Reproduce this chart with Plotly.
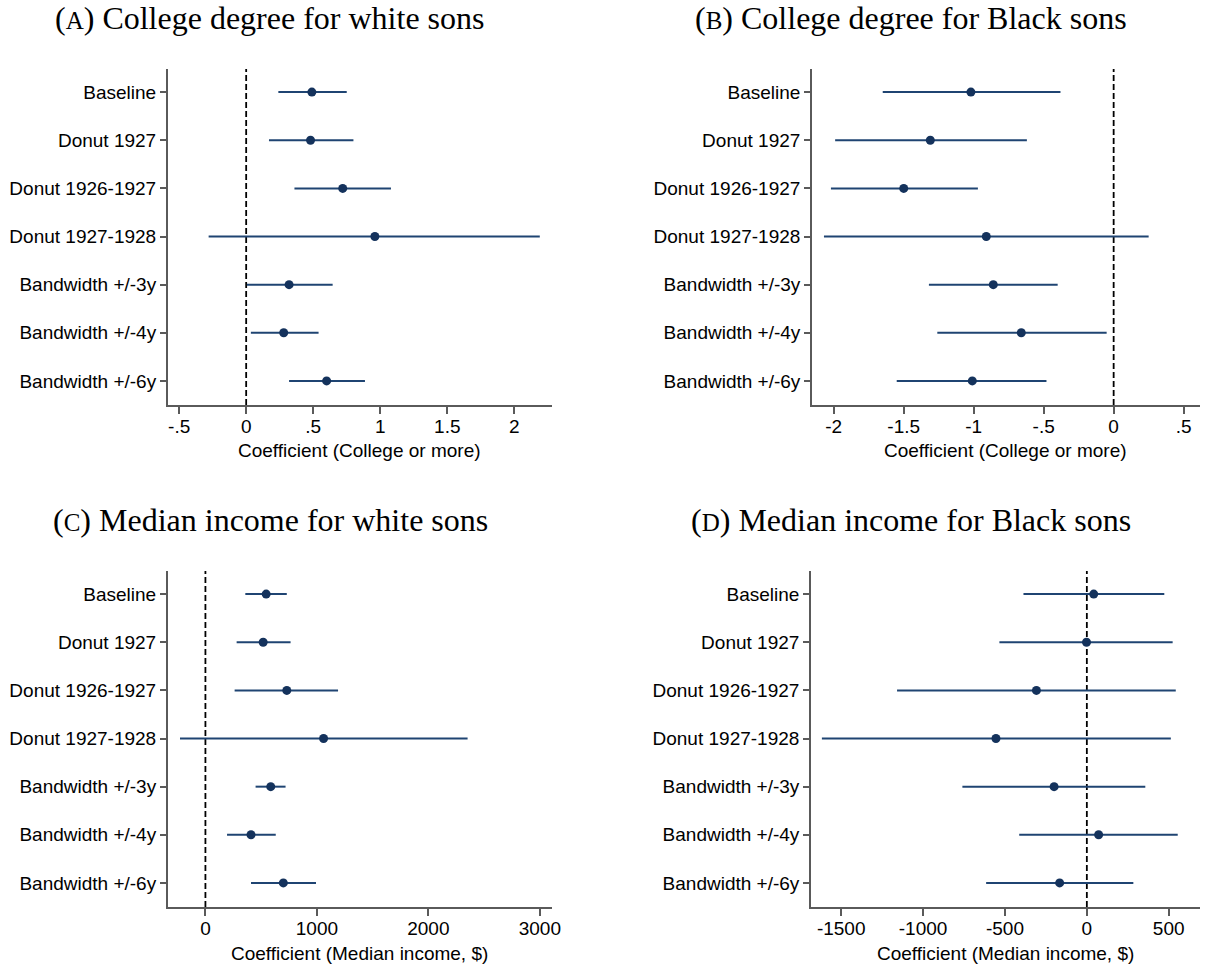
import plotly.graph_objects as go
import numpy as np

W, H = 1209, 967

labels = ["Baseline", "Donut 1927", "Donut 1926-1927", "Donut 1927-1928",
          "Bandwidth +/-3y", "Bandwidth +/-4y", "Bandwidth +/-6y"]

# (A) college, white sons
a_coef = [0.49, 0.48, 0.72, 0.96, 0.32, 0.28, 0.60]
a_lo = [0.24, 0.17, 0.36, -0.28, 0.005, 0.035, 0.32]
a_hi = [0.75, 0.80, 1.08, 2.19, 0.645, 0.54, 0.886]

# (B) college, Black sons
b_coef = [-1.02, -1.31, -1.50, -0.91, -0.86, -0.66, -1.01]
b_lo = [-1.65, -1.99, -2.02, -2.07, -1.32, -1.26, -1.55]
b_hi = [-0.38, -0.62, -0.97, 0.25, -0.40, -0.05, -0.48]

# (C) median income, white sons
c_coef = [545, 518, 730, 1060, 586, 409, 699]
c_lo = [358, 280, 262, -228, 450, 194, 409]
c_hi = [730, 764, 1190, 2352, 719, 631, 992]

# (D) median income, Black sons
d_coef = [42, -2, -308, -555, -200, 72, -166]
d_lo = [-387, -534, -1159, -1618, -760, -413, -615]
d_hi = [473, 524, 543, 513, 357, 555, 284]

a_ticks = [-0.5, 0, 0.5, 1, 1.5, 2]
a_ticktext = ["-.5", "0", ".5", "1", "1.5", "2"]
b_ticks = [-2, -1.5, -1, -0.5, 0, 0.5]
b_ticktext = ["-2", "-1.5", "-1", "-.5", "0", ".5"]
c_ticks = [0, 1000, 2000, 3000]
d_ticks = [-1500, -1000, -500, 0, 500]

titles = ["(<span style='font-size:25px'>A</span>) College degree for white sons",
          "(<span style='font-size:25px'>B</span>) College degree for Black sons",
          "(<span style='font-size:25px'>C</span>) Median income for white sons",
          "(<span style='font-size:25px'>D</span>) Median income for Black sons"]
xtitles = ["Coefficient (College or more)", "Coefficient (College or more)",
           "Coefficient (Median income, $)", "Coefficient (Median income, $)"]

LINE = "#1f4472"
DOT = "#14325c"
AX = "#5a5a5a"
SANS = "Liberation Sans, Arial, sans-serif"
SERIF = "Liberation Serif, Times New Roman, serif"

# pixel boxes of each plot area: left, right, top, bottom
boxes = [(169, 556, 69, 405), (818, 1209, 69, 405),
         (169, 556, 571, 907), (817, 1209, 571, 907)]
title_pos = [(272, 18), (918, 18), (273, 520), (918, 520)]
xranges = [[-0.585, 2.28], [-2.156, 0.617], [-338, 3108], [-1685, 691]]
ticks = [(a_ticks, a_ticktext), (b_ticks, b_ticktext),
         (c_ticks, [str(v) for v in c_ticks]), (d_ticks, [str(v) for v in d_ticks])]
panels = [(a_coef, a_lo, a_hi), (b_coef, b_lo, b_hi),
          (c_coef, c_lo, c_hi), (d_coef, d_lo, d_hi)]

fig = go.Figure()
annotations = []
shapes = []
for i, (coef, lo, hi) in enumerate(panels):
    n = "" if i == 0 else str(i + 1)
    coef = np.array(coef, dtype=float)
    fig.add_trace(go.Scatter(
        x=coef, y=labels, mode="markers",
        marker=dict(color=DOT, size=9),
        error_x=dict(type="data", symmetric=False,
                     array=np.array(hi) - coef, arrayminus=coef - np.array(lo),
                     color=LINE, thickness=2, width=0),
        xaxis="x" + n, yaxis="y" + n, showlegend=False))

    l, r, t, b = boxes[i]
    tv, tt = ticks[i]
    fig.layout["xaxis" + n] = dict(
        domain=[l / W, r / W], anchor="y" + n, range=xranges[i],
        tickvals=tv, ticktext=tt, ticks="outside", ticklen=7, tickwidth=1.5,
        tickcolor=AX, showline=True, linecolor=AX, linewidth=1.5,
        showgrid=False, zeroline=False, ticklabelstandoff=-4,
        tickfont=dict(family=SANS, size=19, color="black"))
    fig.layout["yaxis" + n] = dict(
        domain=[1 - b / H, 1 - t / H], anchor="x" + n,
        type="category", categoryorder="array", categoryarray=labels,
        range=[6.5, -0.48], ticks="outside", ticklen=6, tickwidth=1.5,
        tickcolor=AX, showline=True, linecolor=AX, linewidth=1.5,
        showgrid=False, zeroline=False,
        tickfont=dict(family=SANS, size=19, color="black"))

    shapes.append(dict(type="line", xref="x" + n, yref="y" + n + " domain",
                       x0=0, x1=0, y0=0, y1=1, layer="below",
                       line=dict(color="black", width=1.8, dash="6px,3px")))

    tx, ty = title_pos[i]
    annotations.append(dict(text=titles[i], x=tx / W, y=1 - ty / H,
                            xref="paper", yref="paper", showarrow=False,
                            xanchor="center", yanchor="middle",
                            font=dict(family=SERIF, size=32, color="black")))
    annotations.append(dict(text=xtitles[i], x=(l + r) / 2 / W, y=1 - (b + 46) / H,
                            xref="paper", yref="paper", showarrow=False,
                            xanchor="center", yanchor="middle",
                            font=dict(family=SANS, size=19, color="black")))

fig.update_layout(width=W, height=H, margin=dict(l=0, r=0, t=0, b=0),
                  paper_bgcolor="white", plot_bgcolor="white",
                  shapes=shapes, annotations=annotations)

# page body has a default 8px margin; drop it so the figure fills the window
fig.write_html("out.html", config={"displayModeBar": False},
               post_script="document.body.style.margin='0';")
